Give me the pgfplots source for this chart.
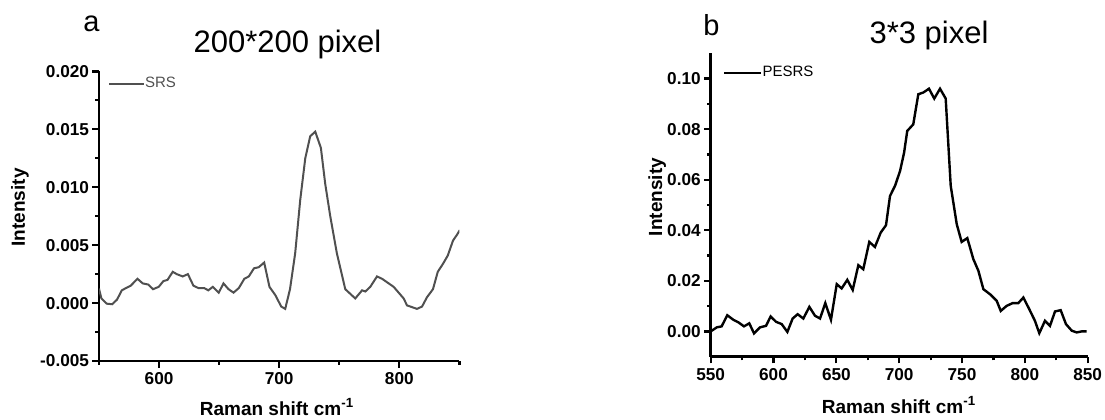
\documentclass[border=0pt]{standalone}
\usepackage{fontspec}
\setmainfont{Liberation Sans}
\usepackage{pgfplots}
\pgfplotsset{compat=1.18}
\definecolor{srsgray}{RGB}{80,80,80}
\begin{document}
\begin{tikzpicture}
\useasboundingbox (0,0) rectangle (552.5pt,209.5pt);
\pgfplotsset{
  myaxis/.style={
    scale only axis,
    anchor=south west,
    axis x line*=bottom,
    axis y line*=left,
    axis line style={-, line width=1.3pt, black},
    tick align=outside,
    major tick length=3.3pt,
    minor tick length=1.8pt,
    every tick/.style={line width=1.1pt, black},
    minor tick num=1,
    tick label style={font=\fontsize{8.6}{9.5}\selectfont\bfseries},
    yticklabel style={inner xsep=1.5pt},
    xticklabel style={inner ysep=2.2pt},
    /pgf/number format/assume math mode=true,
    clip=true,
    legend style={draw=none, fill=none, inner sep=0pt, outer sep=0pt,
      anchor=west, font=\fontsize{7.5}{8}\selectfont,
      nodes={inner sep=0pt}},
  },
}
% Panel a
\begin{axis}[myaxis,
  at={(49.5pt,29pt)}, width=180.2pt, height=144.8pt,
  xmin=550, xmax=850, ymin=-0.005, ymax=0.020,
  xtick={600,700,800}, minor xtick={550,650,750,850},
  ytick={-0.005,0,0.005,0.010,0.015,0.020},
  yticklabel style={/pgf/number format/.cd, fixed, fixed zerofill, precision=3},
  scaled y ticks=false,
  legend style={at={(axis description cs:0.025,0.956)}, text=srsgray},
  legend image code/.code={\draw[#1] (0pt,0pt) -- (17.5pt,0pt);},
]
\addplot[srsgray, line width=1pt] coordinates {
(550,0.00125) (552,0.0004) (556.4,-0.00005) (561,-0.0001) (565,0.0003)
(569,0.0011) (572.5,0.0013) (576.4,0.0015) (582,0.0021) (586.4,0.0017)
(591,0.0016) (595,0.0012) (599.7,0.0014) (603.6,0.0019) (607,0.0020)
(611.4,0.0027) (614.7,0.0025) (619.7,0.0023) (624,0.0025) (628.6,0.0015)
(632.7,0.0013) (637.5,0.0013) (641,0.0011) (644.7,0.0014) (649.7,0.0009)
(653.6,0.0017) (657.8,0.0012) (662,0.0009) (666.4,0.0013) (671,0.0021)
(674.7,0.0023) (679,0.0030) (683,0.0031) (687.5,0.0035) (691.9,0.0014)
(696.7,0.0007) (701.7,-0.0003) (705,-0.0005) (709,0.0012) (713.3,0.0043)
(717.5,0.0089) (721.7,0.0125) (725.8,0.0144) (730,0.0148) (734.7,0.0134)
(738.3,0.0103) (742.5,0.0075) (748,0.0043) (755,0.0012) (763.3,0.0004)
(769,0.0011) (771.7,0.0010) (775.8,0.0014) (781.4,0.0023) (785.6,0.0021)
(795.3,0.0014) (803.6,0.0004) (806.4,-0.0002) (814.7,-0.0005) (818.9,-0.0003)
(823,0.0005) (828,0.0012) (832,0.0027) (836.4,0.0034) (840.3,0.0041)
(844.7,0.0054) (848,0.0059) (850.3,0.0063)
};
\addlegendentry{SRS}
\end{axis}
% Panel b
\begin{axis}[myaxis,
  at={(355.35pt,31.15pt)}, width=188.5pt, height=151.7pt,
  xmin=550, xmax=850, ymin=-0.01, ymax=0.11,
  xtick={550,600,650,700,750,800,850},
  ytick={0,0.02,0.04,0.06,0.08,0.10},
  yticklabel style={/pgf/number format/.cd, fixed, fixed zerofill, precision=2},
  scaled y ticks=false,
  legend style={at={(axis description cs:0.033,0.936)}},
  legend image code/.code={\draw[#1] (0pt,0pt) -- (18.5pt,0pt);},
]
\addplot[black, line width=1.2pt] coordinates {
(550,0.0) (554.8,0.0016) (558.7,0.0020) (563.2,0.0064) (568,0.0046)
(572,0.0036) (576.5,0.0020) (580.7,0.0032) (584.5,-0.0008) (589.2,0.0016)
(594,0.0022) (597.7,0.0059) (602,0.0038) (606.5,0.0029) (611,-0.0002)
(615.2,0.0051) (619.2,0.0068) (623.7,0.0051) (628.5,0.0097) (633,0.0062)
(637,0.0051) (641.2,0.0112) (645.7,0.0046) (650.3,0.0187) (654.2,0.0170)
(658.7,0.0204) (663,0.0164) (667.5,0.0262) (671.4,0.0246) (676.2,0.0354)
(680.7,0.0334) (685.3,0.0391) (689.5,0.0420) (692.7,0.0536) (696.7,0.0576)
(700.7,0.0635) (703.9,0.0707) (706.4,0.0793) (711.2,0.0819) (715.2,0.0938)
(719.2,0.0945) (723.7,0.0960) (727.9,0.0921) (732.5,0.0960) (737,0.0921)
(741,0.0576) (745.8,0.0424) (749.7,0.0354) (754.2,0.0369) (759,0.0286)
(763,0.0240) (767,0.0167) (772.3,0.0147) (777.6,0.0121) (780.8,0.0081)
(785.5,0.0101) (790.3,0.0112) (794.8,0.0112) (798.8,0.0134) (803.5,0.0088)
(808,0.0042) (811.5,-0.0007) (816,0.0042) (820,0.0022) (824,0.0079)
(828.5,0.0084) (832.7,0.0029) (837.3,0.0003) (841.2,-0.0004) (845.2,0.0)
(849.2,0.0)
};
\addlegendentry{PESRS}
\end{axis}
% Panel letters and titles
\node[anchor=base west, inner sep=0pt, font=\fontsize{14.5}{16}\selectfont] at (41.5pt,193.65pt) {a};
\node[anchor=base, inner sep=0pt, font=\fontsize{15.5}{17}\selectfont] at (143.75pt,183pt) {200*200 pixel};
\node[anchor=base west, inner sep=0pt, font=\fontsize{14.5}{16}\selectfont] at (351.5pt,192pt) {b};
\node[anchor=base, inner sep=0pt, font=\fontsize{15.5}{17}\selectfont] at (464.5pt,187.85pt) {3*3 pixel};
% Axis labels
\node[anchor=base, inner sep=0pt, font=\fontsize{9.5}{11}\selectfont\bfseries] at (138.5pt,2pt) {Raman shift cm\textsuperscript{-1}};
\node[anchor=base, inner sep=0pt, font=\fontsize{9.5}{11}\selectfont\bfseries] at (449.5pt,3pt) {Raman shift cm\textsuperscript{-1}};
\node[anchor=base, rotate=90, inner sep=0pt, font=\fontsize{9.5}{11}\selectfont\bfseries] at (12.5pt,105.75pt) {Intensity};
\node[anchor=base, rotate=90, inner sep=0pt, font=\fontsize{9.5}{11}\selectfont\bfseries] at (331pt,111pt) {Intensity};
\end{tikzpicture}
\end{document}
